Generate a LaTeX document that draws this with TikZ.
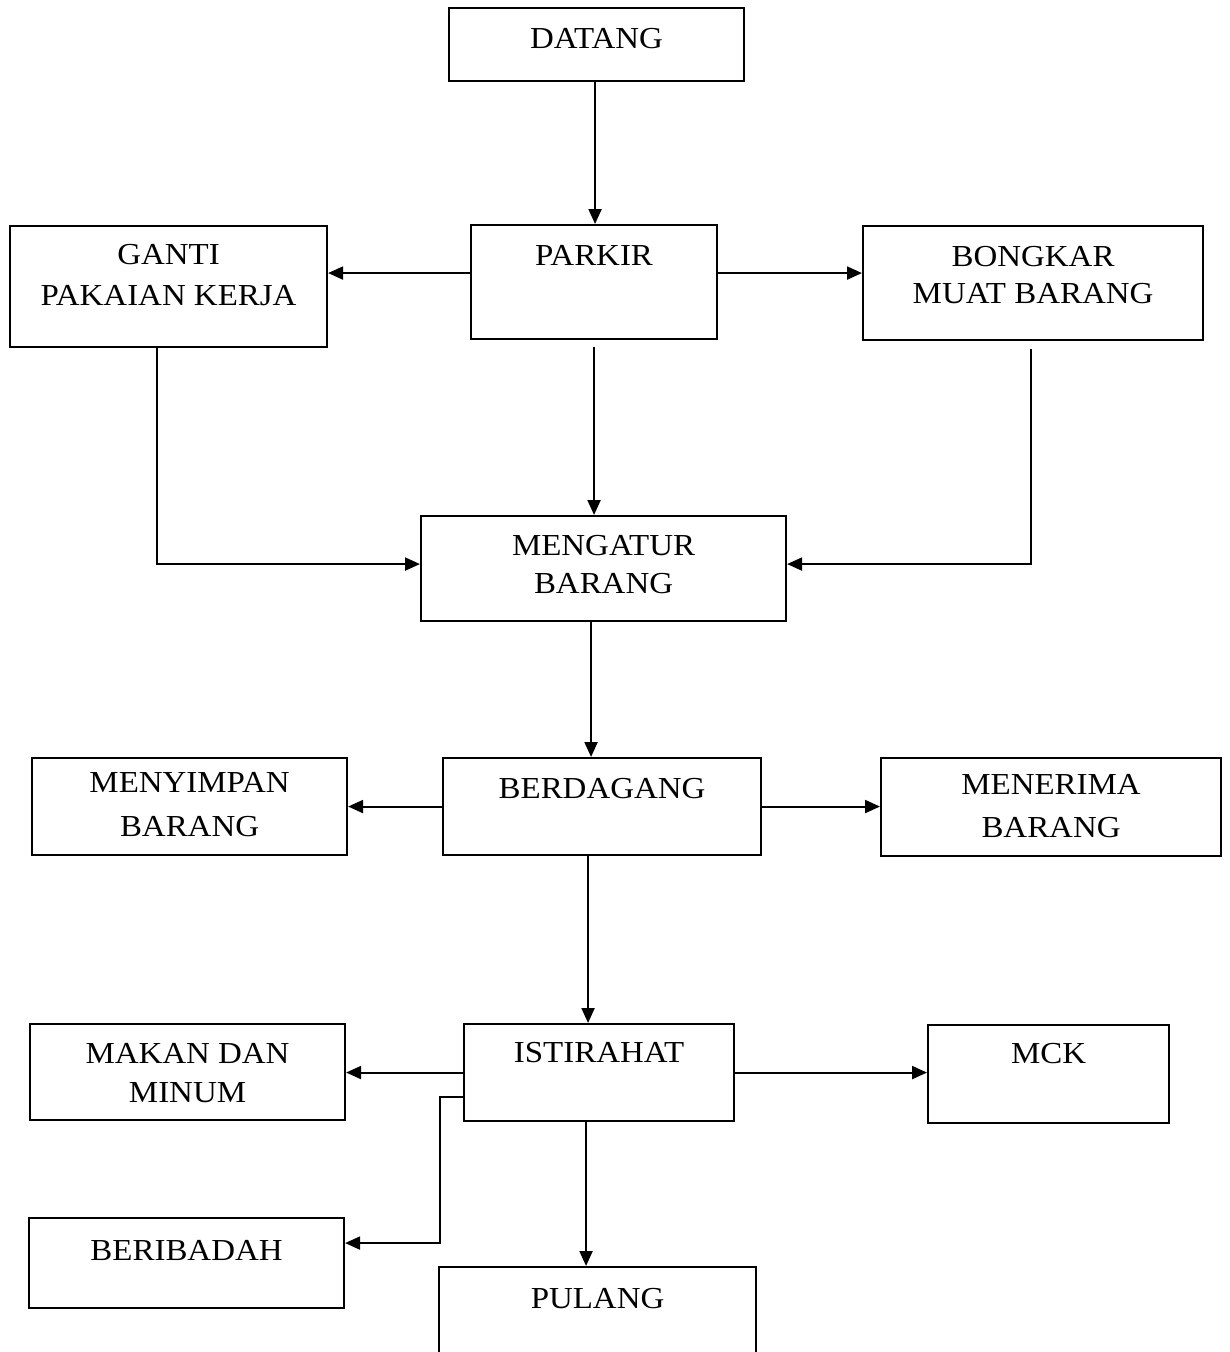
\documentclass[tikz,border=0pt]{standalone}
\usepackage{fontspec}
\setmainfont[FakeStretch=1.08]{Liberation Serif}
\usetikzlibrary{arrows.meta}
\tikzset{
  box/.style={draw, line width=2.1pt, inner sep=0pt, anchor=north west},
  lbl/.style={anchor=north, inner sep=0pt, align=center, font=\fontsize{30.5}{40}\selectfont},
  arr/.style={line width=2.1pt, -{Triangle[length=15pt,width=13pt]}}
}
\begin{document}
\begin{tikzpicture}[x=1pt,y=-1pt]
\useasboundingbox (0,0) rectangle (1229,1352);
% boxes
\node[box, minimum width=295pt, minimum height=73pt] (datang) at (448,7) {};
\node[box, minimum width=246pt, minimum height=114pt] (parkir) at (470,224) {};
\node[box, minimum width=317pt, minimum height=121pt] (ganti) at (9,225) {};
\node[box, minimum width=340pt, minimum height=114pt] (bongkar) at (862,225) {};
\node[box, minimum width=365pt, minimum height=105pt] (mengatur) at (420,515) {};
\node[box, minimum width=318pt, minimum height=97pt] (berdagang) at (442,757) {};
\node[box, minimum width=315pt, minimum height=97pt] (menyimpan) at (31,757) {};
\node[box, minimum width=340pt, minimum height=98pt] (menerima) at (880,757) {};
\node[box, minimum width=270pt, minimum height=97pt] (istirahat) at (463,1023) {};
\node[box, minimum width=315pt, minimum height=96pt] (makan) at (29,1023) {};
\node[box, minimum width=241pt, minimum height=98pt] (mck) at (927,1024) {};
\node[box, minimum width=315pt, minimum height=90pt] (beribadah) at (28,1217) {};
\begin{scope}
\clip (0,0) rectangle (1229,1352);
\node[box, minimum width=317pt, minimum height=130pt] (pulang) at (438,1266) {};
\end{scope}
% labels
\node[lbl] (datangT) at ([yshift=-21pt]datang.north) {DATANG};
\node[lbl] (parkirT) at ([yshift=-21pt]parkir.north) {PARKIR};
\node[lbl, font=\fontsize{30.5}{41}\selectfont] (gantiT) at ([yshift=-19pt]ganti.north) {GANTI\\PAKAIAN KERJA};
\node[lbl, font=\fontsize{30.5}{37}\selectfont] (bongkarT) at ([yshift=-21pt]bongkar.north) {BONGKAR\\MUAT BARANG};
\node[lbl, font=\fontsize{30.5}{38}\selectfont] (mengaturT) at ([yshift=-20pt]mengatur.north) {MENGATUR\\BARANG};
\node[lbl] (berdagangT) at ([yshift=-21pt]berdagang.north) {BERDAGANG};
\node[lbl, font=\fontsize{30.5}{44}\selectfont] (menyimpanT) at ([yshift=-15pt]menyimpan.north) {MENYIMPAN\\BARANG};
\node[lbl, font=\fontsize{30.5}{43}\selectfont] (menerimaT) at ([yshift=-17pt]menerima.north) {MENERIMA\\BARANG};
\node[lbl] (istirahatT) at ([yshift=-19pt]istirahat.north) {ISTIRAHAT};
\node[lbl, font=\fontsize{30.5}{39}\selectfont] (makanT) at ([yshift=-20pt]makan.north) {MAKAN DAN\\MINUM};
\node[lbl] (mckT) at ([yshift=-19pt]mck.north) {MCK};
\node[lbl] (beribadahT) at ([yshift=-23pt]beribadah.north) {BERIBADAH};
\node[lbl] (pulangT) at ([yshift=-22pt]pulang.north) {PULANG};
% connectors
\draw[arr] ([xshift=-1.5pt]datang.south) -- ([xshift=-1.5pt]datang.south |- parkir.north);
\draw[arr] ([yshift=9pt]parkir.west) -- ([yshift=9pt]parkir.west -| ganti.east);
\draw[arr] ([yshift=9pt]parkir.east) -- ([yshift=9pt]parkir.east -| bongkar.west);
\draw[arr] ([yshift=-7pt]parkir.south) -- (parkir.south |- mengatur.north);
\draw[arr] ([xshift=-11.5pt]ganti.south) |- ([yshift=4.5pt]mengatur.west);
\draw[arr] ([xshift=-2pt,yshift=-8pt]bongkar.south) |- ([yshift=4.5pt]mengatur.east);
\draw[arr] ([xshift=-12.5pt]mengatur.south) -- ([xshift=-12.5pt]mengatur.south |- berdagang.north);
\draw[arr] (berdagang.west) -- (berdagang.west -| menyimpan.east);
\draw[arr] (berdagang.east) -- (berdagang.east -| menerima.west);
\draw[arr] ([xshift=-14pt]berdagang.south) -- ([xshift=-14pt]berdagang.south |- istirahat.north);
\draw[arr] (istirahat.west) -- (istirahat.west -| makan.east);
\draw[arr] (istirahat.east) -- (istirahat.east -| mck.west);
\draw[arr] ([yshift=-24.5pt]istirahat.west) -- ++(-23,0) |- ([yshift=20pt]beribadah.east);
\draw[arr] ([xshift=-13pt]istirahat.south) -- ([xshift=-13pt]istirahat.south |- pulang.north);
\end{tikzpicture}
\end{document}
